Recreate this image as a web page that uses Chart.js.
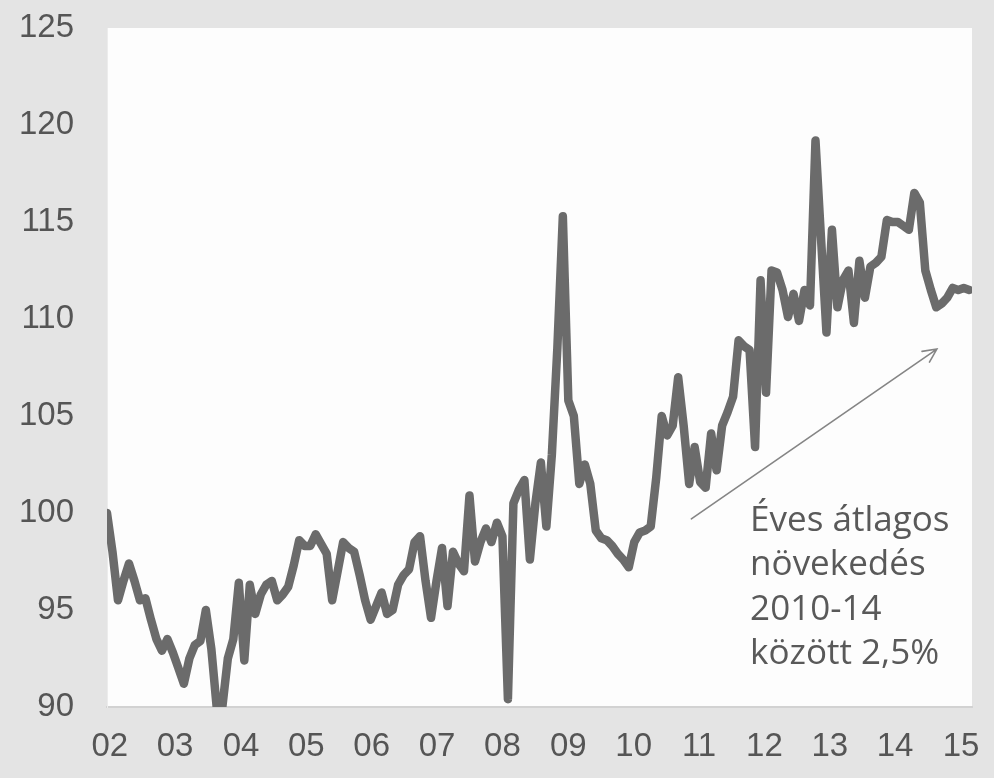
<!DOCTYPE html>
<html>
<head>
<meta charset="utf-8">
<script src="https://cdn.jsdelivr.net/npm/chart.js@4/dist/chart.umd.min.js"></script>
<style>
  html, body { margin: 0; padding: 0; background: #e4e4e4; }
  canvas { display: block; }
</style>
</head>
<body>
<canvas id="chart" width="994" height="778"></canvas>
<script>
// monthly index, 2002 jan .. 2015 feb
const y2002 = [100.0, 98.0, 95.5, 96.5, 97.4, 96.5, 95.5, 95.6, 94.5, 93.5, 92.9, 93.5];
const y2003 = [92.8, 92.0, 91.2, 92.5, 93.2, 93.4, 95.0, 93.0, 89.9, 90.0, 92.5, 93.5];
const y2004 = [96.4, 92.4, 96.3, 94.8, 95.8, 96.3, 96.5, 95.5, 95.8, 96.2, 97.3, 98.6];
const y2005 = [98.3, 98.3, 98.9, 98.4, 97.9, 95.5, 97.0, 98.5, 98.2, 98.0, 96.8, 95.5];
const y2006 = [94.5, 95.2, 95.9, 94.8, 95.0, 96.3, 96.8, 97.1, 98.5, 98.8, 96.5, 94.6];
const y2007 = [96.5, 98.2, 95.2, 98.0, 97.4, 97.0, 100.9, 97.5, 98.5, 99.2, 98.5, 99.5];
const y2008 = [98.8, 90.4, 100.5, 101.2, 101.7, 97.6, 100.5, 102.6, 99.3, 103.0, 108.5, 115.3];
const y2009 = [105.8, 105.0, 101.5, 102.5, 101.5, 99.1, 98.7, 98.6, 98.3, 97.9, 97.6, 97.2];
const y2010 = [98.5, 99.0, 99.1, 99.3, 101.8, 105.0, 104.0, 104.5, 107.0, 104.5, 101.5, 103.4];
const y2011 = [101.6, 101.3, 104.1, 102.2, 104.5, 105.2, 106.0, 108.9, 108.6, 108.4, 103.4, 112.0];
const y2012 = [106.2, 112.5, 112.4, 111.5, 110.1, 111.3, 109.9, 111.5, 110.7, 119.2, 114.2, 109.3];
const y2013 = [114.6, 110.6, 112.0, 112.5, 109.8, 113.0, 111.1, 112.7, 112.9, 113.2, 115.1, 115.0];
const y2014 = [115.0, 114.8, 114.6, 116.5, 116.0, 112.5, 111.5, 110.6, 110.8, 111.1, 111.6, 111.5];
const y2015 = [111.6, 111.5];

const yearLabels = ['02', '03', '04', '05', '06', '07', '08', '09', '10', '11', '12', '13', '14', '15'];
const yearTickPos = [0.5, 12.4, 24.4, 36.3, 48.2, 60.1, 72.0, 84.0, 95.9, 107.8, 119.7, 131.6, 143.5, 155.5];

const noteLines = ['Éves átlagos', 'növekedés', '2010-14', 'között 2,5%'];
const noteAt = { x: 117.1, y: 99.6 };
const arrowFrom = { x: 106.4, y: 99.7 };
const arrowTo = { x: 151.1, y: 108.45 };

const values = [].concat(y2002, y2003, y2004, y2005, y2006, y2007, y2008,
    y2009, y2010, y2011, y2012, y2013, y2014, y2015);

const canvas = document.getElementById('chart');

const plotBg = {
    id: 'plotBg',
    beforeDraw(chart) {
        const { ctx, chartArea: a } = chart;
        ctx.save();
        ctx.fillStyle = '#e4e4e4';
        ctx.fillRect(0, 0, chart.width, chart.height);
        ctx.fillStyle = '#fdfdfd';
        ctx.fillRect(a.left, a.top, a.right - a.left, a.bottom - a.top);
        ctx.restore();
    }
};

const noteArrow = {
    id: 'noteArrow',
    afterDatasetsDraw(chart) {
        const { ctx, scales: { x, y } } = chart;
        const x1 = x.getPixelForValue(arrowFrom.x), y1 = y.getPixelForValue(arrowFrom.y);
        const x2 = x.getPixelForValue(arrowTo.x), y2 = y.getPixelForValue(arrowTo.y);
        const ang = Math.atan2(y2 - y1, x2 - x1);
        ctx.save();
        ctx.strokeStyle = '#858585';
        ctx.lineWidth = 1.6;
        ctx.lineCap = 'round';
        ctx.beginPath();
        ctx.moveTo(x1, y1);
        ctx.lineTo(x2, y2);
        const head = 15;
        ctx.moveTo(x2 - head * Math.cos(ang - 0.45), y2 - head * Math.sin(ang - 0.45));
        ctx.lineTo(x2, y2);
        ctx.lineTo(x2 - head * Math.cos(ang + 0.45), y2 - head * Math.sin(ang + 0.45));
        ctx.stroke();

        ctx.fillStyle = '#595959';
        ctx.font = '35px "Open Sans", "Noto Sans", sans-serif';
        ctx.textAlign = 'left';
        ctx.textBaseline = 'middle';
        const tx = x.getPixelForValue(noteAt.x);
        const ty = y.getPixelForValue(noteAt.y);
        noteLines.forEach((line, i) => ctx.fillText(line, tx, ty + i * 44.5));
        ctx.restore();
    }
};

new Chart(canvas, {
    type: 'line',
    data: {
        datasets: [{
            data: values.map((v, i) => ({ x: i, y: v })),
            borderColor: '#6b6b6b',
            borderWidth: 8.5,
            borderJoinStyle: 'round',
            borderCapStyle: 'round',
            pointRadius: 0,
            tension: 0,
            fill: false
        }]
    },
    options: {
        responsive: false,
        animation: false,
        layout: { padding: { top: 28, right: 22, left: 0, bottom: 0 } },
        plugins: { legend: { display: false }, tooltip: { enabled: false } },
        scales: {
            x: {
                type: 'linear',
                min: 0,
                max: 157.5,
                afterFit(scale) {
                    scale.height = 71;
                    scale.paddingLeft = 0;
                    scale.paddingRight = 0;
                },
                afterBuildTicks(scale) {
                    scale.ticks = yearTickPos.map(p => ({ value: p }));
                },
                grid: { display: false, drawTicks: false },
                border: { display: true, color: '#d2d2d2', width: 2 },
                ticks: {
                    autoSkip: false,
                    maxRotation: 0,
                    padding: 20,
                    color: '#555555',
                    font: { family: '"Liberation Sans", Arial, sans-serif', size: 33 },
                    callback: (val, idx) => yearLabels[idx]
                }
            },
            y: {
                min: 90,
                max: 125,
                afterFit(scale) {
                    scale.width = 107;
                    scale.paddingTop = 0;
                    scale.paddingBottom = 0;
                },
                grid: { display: false, drawTicks: false },
                border: { display: true, color: '#ececec', width: 1 },
                ticks: {
                    stepSize: 5,
                    padding: 33,
                    color: '#555555',
                    font: { family: '"Liberation Sans", Arial, sans-serif', size: 33 }
                }
            }
        }
    },
    plugins: [plotBg, noteArrow]
});
</script>
</body>
</html>
